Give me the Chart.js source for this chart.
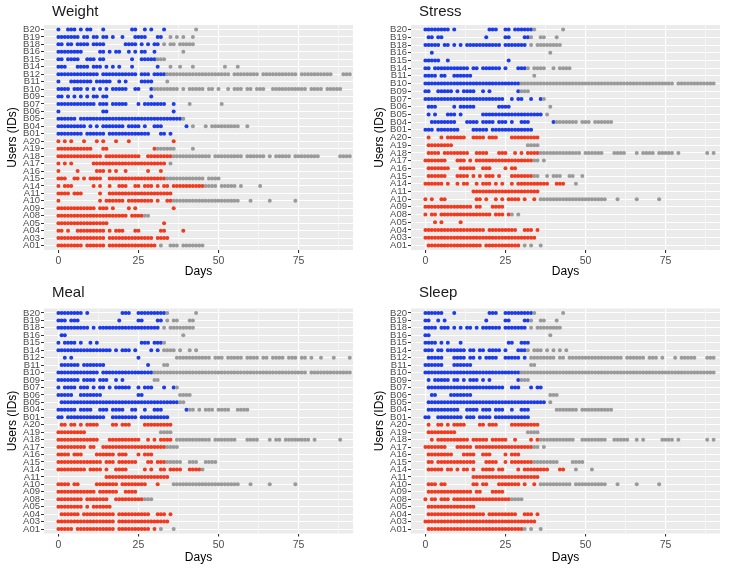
<!DOCTYPE html>
<html>
<head>
<meta charset="utf-8">
<script src="https://cdn.jsdelivr.net/npm/chart.js@4.4.1/dist/chart.umd.min.js"></script>
<style>
  body { margin: 0; background: #fff; width: 734px; height: 571px; overflow: hidden; }
  .panel { position: absolute; }
</style>
</head>
<body>
<div class="panel" style="left:0;top:0"><canvas id="weightChart" width="362" height="285"></canvas></div>
<div class="panel" style="left:367px;top:0"><canvas id="stressChart" width="362" height="285"></canvas></div>
<div class="panel" style="left:0;top:282px"><canvas id="mealChart" width="362" height="289"></canvas></div>
<div class="panel" style="left:367px;top:282px"><canvas id="sleepChart" width="362" height="289"></canvas></div>
<script>
// users from top row to bottom row
const usersAll = ["B20","B19","B18","B16","B15","B14","B12","B11","B10","B09","B07","B06","B05","B04","B01",
  "A20","A19","A18","A17","A16","A15","A14","A11","A10","A09","A08","A05","A04","A03","A01"];
const usersStress = ["B20","B19","B18","B16","B15","B14","B11","B10","B09","B07","B06","B05","B04","B01",
  "A20","A19","A18","A17","A16","A15","A14","A11","A10","A09","A08","A05","A04","A03","A01"];

const xTicks = [0, 12.5, 25, 37.5, 50, 62.5, 75, 87.5];

// logged days per user ("a-b" = every day from a to b), in study and after it (grey)
const weightDays = [
  "0,3-5,7,9-10,14,23-24,27,29,33", "0-6,8-9,11-12,14-15,17,20,24-27,31-32", "0-1,3-4,6-9,11-14,21-24,26,28,30-31",
  "0-7,13-14,16,18-19,22,24,26-27,30", "0-1,3-6,9-11,13-14,23,26-30", "0-2,6-9,11-13,15,17,19,23,31",
  "0-12,14-24,26-28,30-33", "0,4-10,12-16,19,21,26-29", "0-3,5-7,9,11,13,15,17-21,24-25,29",
  "0-1,3,5,7,9,11-12,14-15,29", "0-11,13-15,17-21,25,27-33,36", "0,14-15,36", "0-5,7-38",
  "0-8,10,12,14-20,22-25,27,30-32,40", "0-7,9-14,16-28,32-33,35",
  "0,2,4,8,12,14,18,22,36", "0-10,14-15,30", "0-13,15-25,28-35", "0,2,4,11-33", "0,6,12-14,16,18,21,28,32",
  "0-2,5-6,8,10-13,16-33", "0,2-4,11,13,16,19-21,24-25,27-29,31,33-34,36-45", "0-3,5-7,13,16-35",
  "0,13,15-20,22-29,31,34-35", "0-11,13-15,17,22,24,36", "0-21,23-26", "0-15,33",
  "0-1,3,6-14,16,18-20,24-25,32-33,39", "0-14,16-29,31-34", "0-7,9-14,16-30"
];
const weightLate = [
  "43", "35,37,39,42", "33,35-36,38-42", "39", "31-33", "35,38,42,52,56",
  "34-53,55-62,64-74,76-85,89-91", "34", "30-37,39,41-45,47-48,50,53,55-57,59-60,62-64,67-77,79-82,84-88",
  "", "41,51", "", "39", "42,46,48-56,59", "",
  "", "31-36,42", "36-47,49-57,59-64,66,68-72,74-81,88-91", "35", "",
  "34-45,47-50", "46-49,51-55,57,63", "", "36-56,60,66,74", "", "27-28", "", "", "", "32,35-37,39-45"
];

const stressDays = [
  "0-7,9,20-22,25-26,28-33", "1-2,4-5,19,25-26,31-32", "0-4,6-7,9,11,13-23,25-31", "2", "0-4,7,26",
  "0-1,3-13,15-16,18-23,25,29-31", "0-3,5-6,9-14", "0-29", "0-1,4-8,10,12-15,18,20,29",
  "0-24,27,29-30,33,36", "1-3,9,11-15,23-26", "1,3,7-9,11,18-36", "2-9,13-16,18-21,23-25,27,30-32,40",
  "0-2,4-10,15-19,21-33",
  "1,5,7-12,15-18,20-22,27-35", "1-8", "1-4,6-13,16-19,23-25,28,30,32-35", "0-6,10-12,14,16-33",
  "1-7,11-15,18-20,25,27-28", "1-6,10-13,15,17,19-21,23,27-33", "0-5,7,10,12-13,16,18-20,22,24,27,29-38,41-43",
  "15-35", "0,2,5-6,16-17,19,22,24,26-29,31,34", "0-14,16-17,21-24", "0,2-3,5-20,22-24,26", "3,5,11",
  "0-18,20-28,31-33,35", "0-34", "1-17,19-29"
];
const stressLate = [
  "34,43", "33,36-37,41", "33,35-42", "39", "", "32,34-37,40,42-45", "34", "30-77,79-90", "30-32",
  "37", "39", "38", "41-47,49-51,53-58", "",
  "", "32-35", "36-48,50-55,59-62,66,68-71,73-77,79,88,90", "34-35,37", "", "34-35,38,40-42,45-46,49",
  "47", "", "36-56,60,66,73", "", "27,29", "", "", "", "31,33,36"
];

const mealDays = [
  "0-7,9,20-22,25-33", "0-2,4-6,19,25-26,31-32", "0-9,11,13-31", "1-2", "0,2-5,7,10,12,26-28,30-32",
  "0-16,18,20-22,24,29,31", "2,4,25", "1-6,8-14,28", "0-12,14-29", "0-6,8-11,13-15,18,20",
  "0,2-5,7-9,11,13-14,16,18-22,25,27-29,33,36", "0-4,7-13,25-26", "1-37",
  "0-5,7-10,13-15,17-20,23-24,27,30-32,40", "0-1,3-14,17-24,26-34",
  "1-2,4-5,7,9-12,17-18,20-22,27-35", "0-8", "0-12,16-25,28,30,32-35", "0-8,10-11,14-33",
  "0-3,5-7,12-17,19-21,25,27-29", "0-13,15-17,19-24,28-29,31-33", "0-8,10-13,15,18-21,27,29,32-33,35-38,41-44",
  "15-34", "0-3,5-6,12-18,20-27,31", "0-11,13-18,21-24", "0-7,9-15,18-26", "0-7,9,11-16",
  "1-6,8-17,19-28,31-33,35", "0-17,19-34", "0-4,6-17,19-28,30"
];
const mealLate = [
  "34,43", "34,36-37,41-42", "33,35-42", "39", "33", "33-36,38,41,43",
  "37-47,49-51,53-57,59-62,64-65,67-70,72-74,76-77,79,82,86,91", "33-34", "30-77,79-91", "30-31",
  "37", "38-41", "38-39", "41-42,44,46-48,50-53,56-59", "",
  "", "32-35", "37-47,49-55,59-62,66,68-69,71-78,80,88", "34-37", "", "34-38,41-43,46-49", "45",
  "", "36-56,60,66,74", "", "27-29", "", "", "", "32,36"
];

const sleepDays = [
  "0-5,9,20-22,25-33", "0-1,4,6,19,25-26,31-32", "0-3,5-7,9,11,13-14,16,18-23,25-31", "0-1",
  "0-3,5,7,11,26-27,30-32", "0-2,4-5,7-12,14-15,17-18,20-23,25,29-31", "1-5,9-12,14-15,17,19-22,25-29,31",
  "0-5,9-14", "0-29", "1,3-7,9-10,12,14-16,18,20,29", "1-24,27-29,33,35-36", "2-3,8-14", "1-37",
  "1-10,13-16,18-20,22-24,27,30-32", "0-1,4-11,13-15,17-20,22-32",
  "1,4-5,7,9-12,17-18,20-22,27-35", "1-9", "2,4-13,15-19,21-25,28,33,35", "0-6,10-14,16-33",
  "1-8,12-15,18-20,25,27-29", "1-2,4-15,19-22,25,27-33", "1-5,7-8,10,12-13,15,18-21,23-24,29,31-38,42-43",
  "15-35", "1-3,5-6,15-16,18-19,23-29,31,34", "1-14,16-17,21-24", "0,2-3,5-7,9-26", "1-15",
  "1-18,20-28,31-33,35", "0-34", "1-30"
];
const sleepLate = [
  "34,43", "33,36-37,41", "33,35-42", "39", "", "32,34-36,38,40,42,44",
  "33-40,42-43,45-61,63-68,70-72,74,78,80-84,88-90", "33-34", "30-90", "30-32", "", "39-41", "39",
  "41-47,49-58", "",
  "", "32-35", "36-46,49-56,59-63,66,68,74-77,79,88,90", "34-35,37", "", "34-41,46-49", "47,52",
  "", "36-45,47-56,60,66,73", "", "27-30", "", "", "", "31,33,36"
];

const RED = "#F23A1E";
const BLUE = "#1B3CE8";
const GREY = "#9A9A9A";

function expandDays(spec) {
  const days = [];
  if (!spec) return days;
  for (const part of spec.split(",")) {
    const [a, b] = part.split("-").map(Number);
    const end = b === undefined ? a : b;
    for (let d = a; d <= end; d++) days.push(d);
  }
  return days;
}

const panelBg = {
  id: "panelBg",
  beforeDraw(chart) {
    const { ctx, chartArea: a } = chart;
    ctx.save();
    ctx.fillStyle = "#EBEBEB";
    ctx.fillRect(a.left, a.top, a.right - a.left, a.bottom - a.top);
    ctx.restore();
  }
};

const panelTitle = {
  id: "panelTitle",
  afterDraw(chart, args, opts) {
    const ctx = chart.ctx;
    ctx.save();
    ctx.font = "15px 'Liberation Sans', Arial, sans-serif";
    ctx.fillStyle = "#1a1a1a";
    ctx.textBaseline = "middle";
    ctx.fillText(opts.text, chart.chartArea.left + 8, opts.y);
    ctx.restore();
  }
};

function makeChart(id, title, users, active, late, top, titleY) {
  const groupA = [];
  const groupB = [];
  const after = [];
  users.forEach((u, i) => {
    const target = u[0] === "A" ? groupA : groupB;
    for (const d of expandDays(active[i])) target.push({ x: d, y: i });
    for (const d of expandDays(late[i])) after.push({ x: d, y: i });
  });

  const ds = (data, color) => ({
    data,
    backgroundColor: color,
    pointBackgroundColor: color,
    pointBorderWidth: 0,
    pointRadius: 2,
    pointHoverRadius: 0
  });

  const el = document.getElementById(id);
  return new Chart(el.getContext("2d"), {
    type: "scatter",
    data: { datasets: [ds(after, GREY), ds(groupB, BLUE), ds(groupA, RED)] },
    options: {
      responsive: false,
      animation: false,
      events: [],
      layout: { padding: { top, right: 9, left: 0, bottom: 0 } },
      plugins: {
        legend: { display: false },
        tooltip: { enabled: false },
        panelTitle: { text: title, y: titleY }
      },
      scales: {
        x: {
          type: "linear",
          min: -4.5,
          max: 92,
          afterBuildTicks: (axis) => { axis.ticks = xTicks.map((v) => ({ value: v })); },
          afterFit: (axis) => { axis.height = el.height - 250 - (top - 25); },
          border: { display: false },
          grid: {
            color: "#ffffff",
            lineWidth: (c) => (c.tick && c.tick.value % 25 === 0 ? 1.1 : 0.5),
            tickLength: 3,
            tickColor: (c) => (c.tick && c.tick.value % 25 === 0 ? "#333333" : "rgba(0,0,0,0)")
          },
          ticks: {
            autoSkip: false,
            maxRotation: 0,
            padding: 2,
            color: "#4D4D4D",
            font: { family: "'Liberation Sans', Arial, sans-serif", size: 10.5 },
            callback: (v) => (v % 25 === 0 ? String(v) : "")
          },
          title: {
            display: true,
            text: "Days",
            color: "#000000",
            padding: { top: 2, bottom: 6 },
            font: { family: "'Liberation Sans', Arial, sans-serif", size: 12 }
          }
        },
        y: {
          type: "linear",
          reverse: true,
          min: -0.6,
          max: users.length - 0.4,
          afterBuildTicks: (axis) => { axis.ticks = users.map((_, i) => ({ value: i })); },
          afterFit: (axis) => { axis.width = 44; },
          border: { display: false },
          grid: { color: "#ffffff", lineWidth: 1, tickLength: 3, tickColor: "#333333" },
          ticks: {
            autoSkip: false,
            padding: 1,
            color: "#4D4D4D",
            font: { family: "'Liberation Sans', Arial, sans-serif", size: 9.5 },
            callback: (v) => users[v]
          },
          title: {
            display: true,
            text: "Users (IDs)",
            color: "#000000",
            padding: { top: 5, bottom: 2 },
            font: { family: "'Liberation Sans', Arial, sans-serif", size: 12 }
          }
        }
      }
    },
    plugins: [panelBg, panelTitle]
  });
}

makeChart("weightChart", "Weight", usersAll, weightDays, weightLate, 25, 12);
makeChart("stressChart", "Stress", usersStress, stressDays, stressLate, 25, 12);
makeChart("mealChart", "Meal", usersAll, mealDays, mealLate, 26.5, 11);
makeChart("sleepChart", "Sleep", usersAll, sleepDays, sleepLate, 26.5, 11);
</script>
</body>
</html>
